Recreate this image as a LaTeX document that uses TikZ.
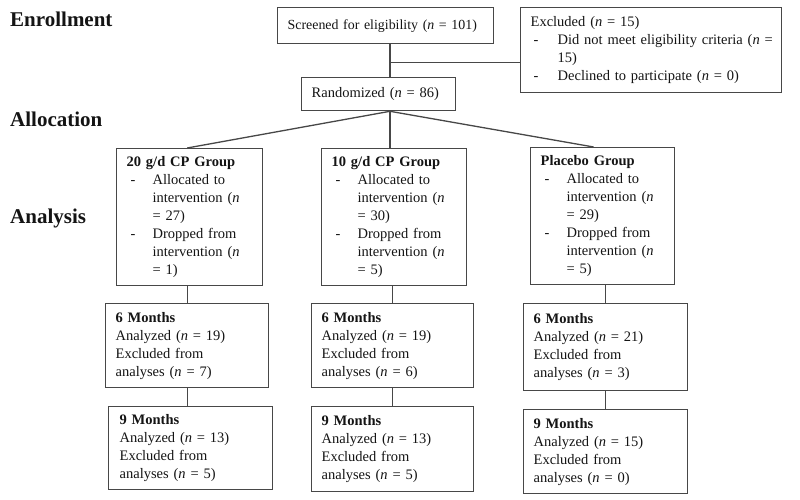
\documentclass[tikz,border=0pt]{standalone}
\usepackage{fontspec}
\setmainfont{Liberation Serif}
\usetikzlibrary{calc}
\newcommand{\mybul}{\makebox[26pt][l]{\hspace{4pt}-}}
\newcommand{\myind}{\hspace*{26pt}}
\newcommand{\xbul}{\makebox[27pt][l]{\hspace{3pt}-}}
\newcommand{\xind}{\hspace*{27pt}}
\begin{document}
\begin{tikzpicture}[x=1pt,y=-1pt,
  box/.style={draw=black!72, line width=1.3pt, rectangle, inner xsep=0pt, inner ysep=0pt,
    align=left, font=\fontsize{14.5}{18}\selectfont, text=black!92, anchor=north west},
  conn/.style={draw=black!72, line width=1.3pt},
  hdr/.style={font=\fontsize{21}{24}\selectfont\bfseries, anchor=base west, inner sep=0pt, text=black!92}]
\useasboundingbox (0,0) rectangle (800,500);

% stage headers
\node[hdr] (hEnr) at (10,27) {Enrollment};
\node[hdr] (hAll) at (10,127) {Allocation};
\node[hdr] (hAna) at (10,223) {Analysis};

% enrollment
\node[box, minimum width=216pt, minimum height=36pt, text width=196pt,
      font=\fontsize{13.9}{18}\selectfont] (scr) at (277,7)
  {\mbox{Screened for eligibility (\emph{n} = 101)}};
\node[box, minimum width=261pt, minimum height=85pt, text width=241pt] (exc) at (520,7)
  {\mbox{Excluded (\emph{n} = 15)}\\
   \mbox{\xbul Did not meet eligibility criteria (\emph{n} =}\\
   \mbox{\xind 15)}\\
   \mbox{\xbul Declined to participate (\emph{n} = 0)}};
\node[box, minimum width=154pt, minimum height=33pt, text width=134pt] (rand) at (301,77)
  {\mbox{Randomized (\emph{n} = 86)}};

% groups
\node[box, minimum width=146pt, minimum height=137pt, text width=126pt] (g1) at (116,148)
  {\textbf{20 g/d CP Group}\\
   \mybul Allocated to\\
   \myind intervention (\emph{n}\\
   \myind = 27)\\
   \mybul Dropped from\\
   \myind intervention (\emph{n}\\
   \myind = 1)};
\node[box, minimum width=145pt, minimum height=137pt, text width=125pt] (g2) at (321,148)
  {\textbf{10 g/d CP Group}\\
   \mybul Allocated to\\
   \myind intervention (\emph{n}\\
   \myind = 30)\\
   \mybul Dropped from\\
   \myind intervention (\emph{n}\\
   \myind = 5)};
\node[box, minimum width=144pt, minimum height=137pt, text width=124pt] (g3) at (530,147)
  {\textbf{Placebo Group}\\
   \mybul Allocated to\\
   \myind intervention (\emph{n}\\
   \myind = 29)\\
   \mybul Dropped from\\
   \myind intervention (\emph{n}\\
   \myind = 5)};

% 6 months
\node[box, minimum width=163pt, minimum height=84pt, text width=143pt] (m1) at (105,303)
  {\textbf{6 Months}\\ Analyzed (\emph{n} = 19)\\ Excluded from\\ analyses (\emph{n} = 7)};
\node[box, minimum width=162pt, minimum height=84pt, text width=142pt] (m2) at (311,303)
  {\textbf{6 Months}\\ Analyzed (\emph{n} = 19)\\ Excluded from\\ analyses (\emph{n} = 6)};
\node[box, minimum width=164pt, minimum height=87pt, text width=144pt] (m3) at (523,303)
  {\textbf{6 Months}\\ Analyzed (\emph{n} = 21)\\ Excluded from\\ analyses (\emph{n} = 3)};

% 9 months
\node[box, minimum width=164pt, minimum height=83pt, text width=142pt] (n1) at (108,406)
  {\textbf{9 Months}\\ Analyzed (\emph{n} = 13)\\ Excluded from\\ analyses (\emph{n} = 5)};
\node[box, minimum width=162pt, minimum height=85pt, text width=142pt] (n2) at (311,406)
  {\textbf{9 Months}\\ Analyzed (\emph{n} = 13)\\ Excluded from\\ analyses (\emph{n} = 5)};
\node[box, minimum width=164pt, minimum height=84pt, text width=144pt] (n3) at (523,409)
  {\textbf{9 Months}\\ Analyzed (\emph{n} = 15)\\ Excluded from\\ analyses (\emph{n} = 0)};

% connectors
\coordinate (j) at ($(scr.south west)+(113,18)$);
\draw[conn] (j |- scr.south) -- (j |- rand.north);
\draw[conn] (j) -- (j -| exc.west);
\coordinate (r) at ($(rand.south west)+(89,0)$);
\draw[conn] (r) -- (m1.north |- g1.north);
\draw[conn] (r) -- (r |- g2.north);
\draw[conn] (r) -- ($(g3.north)+(-9,0)$);
\draw[conn] (m1.north |- g1.south) -- (m1.north);
\draw[conn] (m2.north |- g2.south) -- (m2.north);
\draw[conn] (m3.north |- g3.south) -- (m3.north);
\draw[conn] (m1.south) -- (m1.south |- n1.north);
\draw[conn] (m2.south) -- (m2.south |- n2.north);
\draw[conn] (m3.south) -- (m3.south |- n3.north);
\end{tikzpicture}
\end{document}
